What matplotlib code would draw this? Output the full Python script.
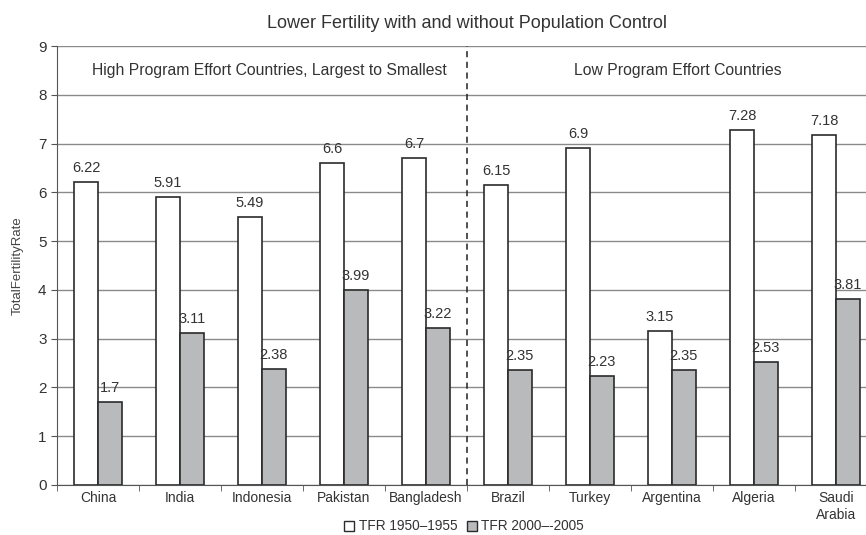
import matplotlib
matplotlib.use("Agg")
import matplotlib.pyplot as plt
import numpy as np
from matplotlib.patches import Patch

plt.rcParams['font.family'] = ['Liberation Sans', 'DejaVu Sans']

countries = ["China", "India", "Indonesia", "Pakistan", "Bangladesh",
             "Brazil", "Turkey", "Argentina", "Algeria", "Saudi\nArabia"]
tfr_1950 = [6.22, 5.91, 5.49, 6.6, 6.7, 6.15, 6.9, 3.15, 7.28, 7.18]
tfr_2000 = [1.7, 3.11, 2.38, 3.99, 3.22, 2.35, 2.23, 2.35, 2.53, 3.81]
labels_1950 = ["6.22", "5.91", "5.49", "6.6", "6.7", "6.15", "6.9", "3.15", "7.28", "7.18"]
labels_2000 = ["1.7", "3.11", "2.38", "3.99", "3.22", "2.35", "2.23", "2.35", "2.53", "3.81"]
series_names = ["TFR 1950\u20131955", "TFR 2000\u2013-2005"]
group_titles = ["High Program Effort Countries, Largest to Smallest", "Low Program Effort Countries"]

txt = "#333333"
edge = "#2b2b2b"
gray = "#b9babc"

fig = plt.figure(figsize=(8.66, 5.35), dpi=100)
ax = fig.add_axes([57/866, 50/535, 820/866, 439/535])

x = np.arange(len(countries))
w = 0.29
b1 = ax.bar(x - w/2, tfr_1950, w, color="white", edgecolor=edge, linewidth=1.2, zorder=3)
b2 = ax.bar(x + w/2, tfr_2000, w, color=gray, edgecolor=edge, linewidth=1.2, zorder=3)
ax.bar_label(b1, labels=labels_1950, padding=5, fontsize=10.5, color=txt)
ax.bar_label(b2, labels=labels_2000, padding=5, fontsize=10.5, color=txt)

ax.set_xlim(-0.5, len(countries) - 0.5)
ax.set_ylim(0, 9)
ax.set_yticks(range(0, 10))
ax.yaxis.grid(True, color="#8a8a8a", linewidth=1.0, zorder=0)
ax.set_axisbelow(True)

ax.set_xticks(x)
ax.set_xticklabels(countries, fontsize=10, color=txt, linespacing=1.35)
ax.set_xticks(np.arange(-0.5, len(countries), 1), minor=True)
ax.tick_params(axis="x", which="major", length=0, pad=4)
ax.tick_params(axis="x", which="minor", length=4, color="#555555")
ax.tick_params(axis="y", length=4, color="#555555", labelsize=11, labelcolor=txt)

for s in ["top", "right"]:
    ax.spines[s].set_visible(False)
for s in ["left", "bottom"]:
    ax.spines[s].set_color("#555555")

ax.axvline(4.5, color="#222222", linestyle=(0, (4, 3)), linewidth=1.1, zorder=4)

ax.text(2.09, 8.5, group_titles[0], ha="center", va="center", fontsize=11.3, color=txt)
ax.text(7.07, 8.5, group_titles[1], ha="center", va="center", fontsize=11.3, color=txt)

ax.set_ylabel("TotalFertilityRate", fontsize=9.5, color="#444444")
ax.yaxis.set_label_coords(-0.040, 0.5)
ax.set_title("Lower Fertility with and without Population Control", fontsize=13, color=txt, pad=13)

handles = [Patch(facecolor="white", edgecolor=edge, linewidth=1.0),
           Patch(facecolor=gray, edgecolor=edge, linewidth=1.0)]
fig.legend(handles, series_names, loc="lower center", bbox_to_anchor=(464/866, -0.02),
           ncol=2, frameon=False, fontsize=9.8, handlelength=0.75, handleheight=0.75,
           handletextpad=0.3, columnspacing=0.7, labelcolor=txt)

fig.savefig("out.png", dpi=100)
